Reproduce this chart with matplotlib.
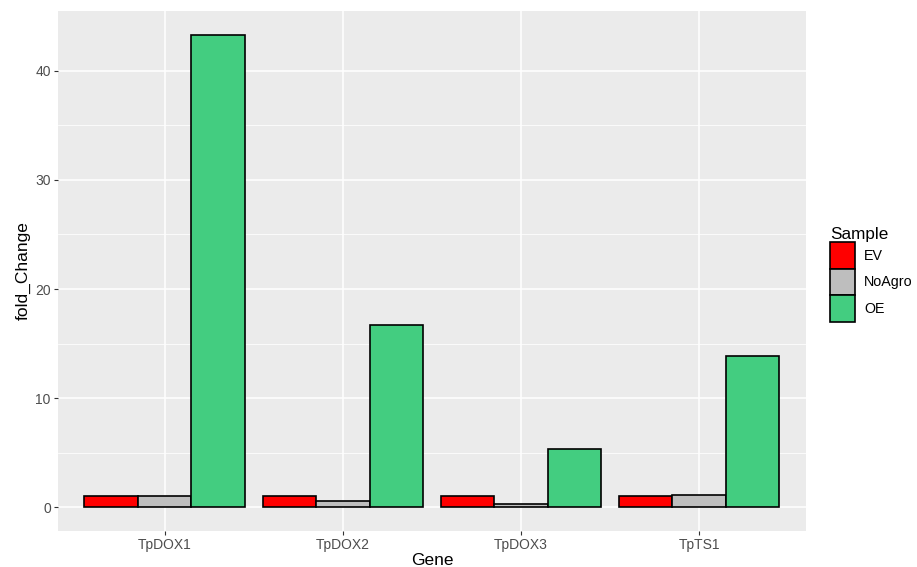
import numpy as np
import matplotlib.pyplot as plt
from matplotlib.patches import Patch

plt.rcParams['font.family'] = ['Liberation Sans', 'DejaVu Sans']

genes = ["TpDOX1", "TpDOX2", "TpDOX3", "TpTS1"]
samples = ["EV", "NoAgro", "OE"]
ev = [1.0, 1.0, 1.0, 1.0]
noagro = [1.0, 0.58, 0.28, 1.17]
oe = [43.3, 16.7, 5.35, 13.9]
colors = ["#FF0000", "#BEBEBE", "#43CD80"]

fig = plt.figure(figsize=(9.17, 5.67), dpi=100)
ax = fig.add_axes([0.063, 0.0635, 0.816, 0.917])
ax.set_facecolor("#EBEBEB")

x = np.arange(1, len(genes) + 1)
w = 0.9 / 3
for i, (vals, c) in enumerate(zip([ev, noagro, oe], colors)):
    ax.bar(x + (i - 1) * w, vals, width=w, color=c, edgecolor="black",
           linewidth=1.2, zorder=3)

# ggplot-like grid
ymax = max(oe)
ax.set_xlim(0.4, 4.6)
ax.set_ylim(-0.05 * ymax, ymax * 1.05)
ax.set_yticks([0, 10, 20, 30, 40])
ax.set_yticks([5, 15, 25, 35], minor=True)
ax.set_xticks(x)
ax.set_xticklabels(genes)
ax.grid(True, which="major", color="white", linewidth=1.1, zorder=0)
ax.grid(True, which="minor", axis="y", color="white", linewidth=0.55, zorder=0)
for s in ax.spines.values():
    s.set_visible(False)
ax.tick_params(which="major", length=3, color="#333333", labelcolor="#4D4D4D",
               labelsize=10, width=0.8, pad=2)
ax.tick_params(which="minor", length=0)

ax.set_xlabel("Gene", fontsize=12.5, labelpad=1)
ax.set_ylabel("fold_Change", fontsize=12.5, labelpad=3)

handles = [Patch(facecolor=c, edgecolor="black", linewidth=1.2) for c in colors]
leg = fig.legend(handles, samples, title="Sample", loc="center left",
                 bbox_to_anchor=(0.897, 0.516), frameon=False,
                 fontsize=10.3, title_fontsize=12.3, handlelength=1.8,
                 handleheight=2.5, labelspacing=0.0, handletextpad=0.6,
                 borderpad=0)
leg._legend_box.align = "left"

fig.savefig("out.png", dpi=100)
